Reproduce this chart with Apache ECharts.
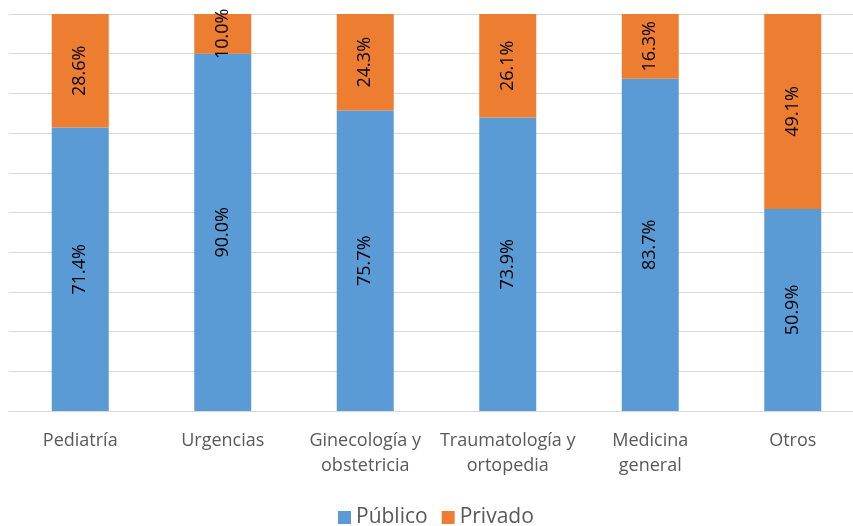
<!DOCTYPE html>
<html><head><meta charset="utf-8">
<script src="https://cdn.jsdelivr.net/npm/echarts@6/dist/echarts.min.js"></script>
<style>html,body{margin:0;padding:0;background:#fff}#c{width:853px;height:526px}</style>
</head><body><div id="c"></div>
<script>
const categories = ["Pediatría", "Urgencias", "Ginecología y\nobstetricia", "Traumatología y\nortopedia", "Medicina\ngeneral", "Otros"];
const publico = [71.4, 90.0, 75.7, 73.9, 83.7, 50.9];
const privado = [28.6, 10.0, 24.3, 26.1, 16.3, 49.1];
const seriesNames = ["Público", "Privado"];

const chart = echarts.init(document.getElementById('c'));
const font = "'Open Sans', sans-serif";
const lbl = {
  show: true, position: 'inside', rotate: 90, color: '#000',
  fontFamily: font, fontSize: 18,
  formatter: p => p.value.toFixed(1) + '%'
};
chart.setOption({
  animation: false,
  color: ['#5b9bd5', '#ed7d31'],
  grid: { left: 9, width: 855, top: 14, height: 397, outerBoundsMode: 'none', containLabel: false },
  xAxis: {
    type: 'category', data: categories,
    axisLine: { lineStyle: { color: '#d9d9d9' } },
    axisTick: { show: false },
    axisLabel: { color: '#595959', fontFamily: font, fontSize: 18, lineHeight: 25, margin: 17, interval: 0 }
  },
  yAxis: {
    type: 'value', min: 0, max: 100, interval: 10,
    axisLabel: { show: false },
    axisLine: { show: false }, axisTick: { show: false },
    splitLine: { lineStyle: { color: '#d9d9d9', width: 1 } }
  },
  legend: {
    top: 502, left: 333, itemWidth: 13, itemHeight: 13, itemGap: 14,
    icon: 'rect',
    textStyle: { color: '#595959', fontFamily: font, fontSize: 21 },
    data: seriesNames
  },
  series: [
    { name: seriesNames[0], type: 'bar', stack: 't', data: publico, barWidth: 57, label: lbl },
    { name: seriesNames[1], type: 'bar', stack: 't', data: privado, barWidth: 57, label: lbl }
  ]
});
</script></body></html>
